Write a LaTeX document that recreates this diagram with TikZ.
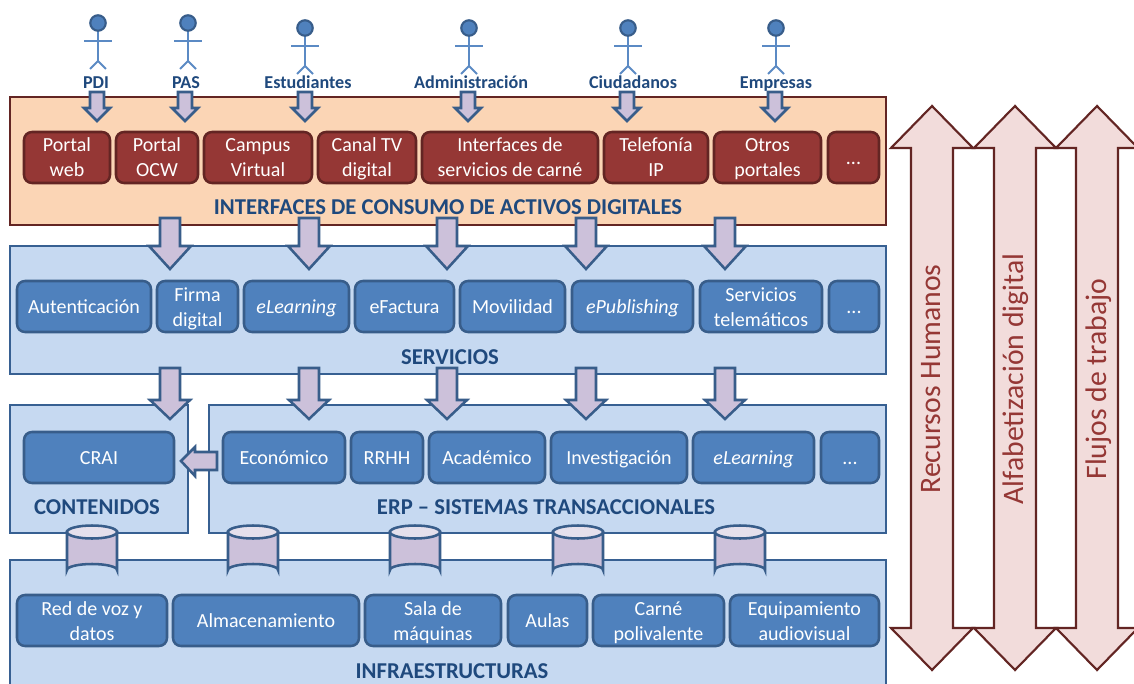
\documentclass[tikz,border=0pt]{standalone}
\usepackage{fontspec}
\setmainfont{Carlito}
\usetikzlibrary{calc}
\definecolor{panelorange}{HTML}{FBD5B5}
\definecolor{panelblue}{HTML}{C6D9F1}
\definecolor{edgeblue}{HTML}{376092}
\definecolor{boxblue}{HTML}{4F81BD}
\definecolor{boxedge}{HTML}{385D8A}
\definecolor{boxred}{HTML}{953735}
\definecolor{edgered}{HTML}{632523}
\definecolor{pale}{HTML}{F2DCDB}
\definecolor{lilac}{HTML}{CCC1DA}
\definecolor{lilactop}{HTML}{E5E0EC}
\definecolor{titleblue}{HTML}{1F497D}
\definecolor{stick}{HTML}{5B8AC4}
\tikzset{
  x=0.75pt,y=-0.75pt,
  panelO/.style={draw=edgered,fill=panelorange,line width=1.9pt},
  panelB/.style={draw=edgeblue,fill=panelblue,line width=1.7pt},
  itemB/.style={draw=boxedge,fill=boxblue,line width=1.9pt,rounded corners=6pt,text=white,font=\fontsize{15}{18.75}\selectfont,align=center,inner sep=0pt},
  itemR/.style={draw=edgered,fill=boxred,line width=1.9pt,rounded corners=6pt,text=white,font=\fontsize{15}{18.75}\selectfont,align=center,inner sep=0pt},
  blockarrow/.style={draw=boxedge,fill=lilac,line width=1.9pt,line join=miter},
  bigarrow/.style={draw=edgered,fill=pale,line width=1.6pt,line join=miter},
  title/.style={text=titleblue,font=\fontsize{17}{20}\bfseries\selectfont,inner sep=0pt,anchor=base},
  actorlabel/.style={text=titleblue,font=\fontsize{13.6}{16}\bfseries\selectfont,inner sep=0pt,anchor=base},
  sidetext/.style={text=boxred,font=\fontsize{22.3}{26}\selectfont,rotate=90,inner sep=0pt},
  stickline/.style={draw=stick,line width=1.4pt},
  head/.style={draw=boxedge,fill=boxblue,line width=1.6pt},
  cyl/.style={draw=boxedge,fill=lilac,line width=1.9pt},
  cyltop/.style={draw=boxedge,fill=lilactop,line width=1.9pt}
}
\newcommand{\topstrut}{\rule{0pt}{14.5pt}}
\newcommand{\botstrut}{\rule[-4pt]{0pt}{4pt}}
% name, x0, x1, y0, y1, style, text
\newcommand{\itembox}[7]{%
  \node[#6,minimum width={(#3-#2)*0.75pt},minimum height={(#5-#4)*0.75pt}] (#1) at ({(#2+#3)/2},{(#4+#5)/2}) {\topstrut #7\botstrut};}
\newcommand{\panelbox}[6]{%
  \node[#6,minimum width={(#3-#2)*0.75pt},minimum height={(#5-#4)*0.75pt},inner sep=0pt] (#1) at ({(#2+#3)/2},{(#4+#5)/2}) {};}
% cx, top, shoulder, tip, shaft half, head half
\newcommand{\downblock}[6]{%
  \draw[blockarrow] ({#1-#5},#2) -- ({#1+#5},#2) -- ({#1+#5},#3) -- ({#1+#6},#3) -- (#1,#4) -- ({#1-#6},#3) -- ({#1-#5},#3) -- cycle;}
\newcommand{\actor}[2]{%
  \draw[stickline] (#1,{#2+8}) -- (#1,{#2+39});
  \draw[stickline] ({#1-14},{#2+18}) -- ({#1+14},{#2+18});
  \draw[stickline] ({#1-8},{#2+46}) -- (#1,{#2+38}) -- ({#1+8},{#2+46});
  \draw[head] (#1,#2) circle[radius=5.8pt];}
\newcommand{\cylinder}[1]{%
  \draw[cyl] ({#1-25},532) -- ({#1-25},570) arc[start angle=180,end angle=360,x radius=25,y radius=6] -- ({#1+25},532) -- cycle;
  \draw[cyltop] (#1,532) ellipse[x radius=25*0.75pt,y radius=6.5*0.75pt];}
\newcommand{\updown}[1]{%
  \draw[bigarrow] (#1,106) -- ({#1+41},148) -- ({#1+21},148) -- ({#1+21},628) -- ({#1+41},628) -- (#1,670) -- ({#1-41},628) -- ({#1-21},628) -- ({#1-21},148) -- ({#1-41},148) -- cycle;}
\begin{document}
\begin{tikzpicture}
\path[use as bounding box,clip] (0,0) rectangle (1134,684);
\fill[white] (0,0) rectangle (1134,684);

% panels
\panelbox{pI}{10}{886}{97}{225}{panelO}
\panelbox{pS}{10}{886}{246}{374}{panelB}
\panelbox{pC}{10}{188}{405}{533}{panelB}
\panelbox{pE}{209}{886}{405}{533}{panelB}
\panelbox{pF}{10}{886}{560}{700}{panelB}

% actors
\actor{98}{23}
\actor{188}{23}
\actor{305}{28}
\actor{469}{28}
\actor{628}{28}
\actor{776}{28}
\node[actorlabel] (aPDI) at (96,89) {PDI};
\node[actorlabel] (aPAS) at (186,89) {PAS};
\node[actorlabel] (aEst) at (308,89) {Estudiantes};
\node[actorlabel] (aAdm) at (471,89) {Administración};
\node[actorlabel] (aCiu) at (633,89) {Ciudadanos};
\node[actorlabel] (aEmp) at (776,89) {Empresas};

% actor arrows
\foreach \c in {97,185,305,468,627,775} {\downblock{\c}{92}{108}{121}{7}{13}}

% red items
\itembox{r1}{24}{110}{132}{183}{itemR}{Portal\\web}
\itembox{r2}{116}{198}{132}{183}{itemR}{Portal\\OCW}
\itembox{r3}{204}{312}{132}{183}{itemR}{Campus\\Virtual}
\itembox{r4}{318}{416}{132}{183}{itemR}{Canal TV\\digital}
\itembox{r5}{422}{598}{132}{183}{itemR}{Interfaces de\\servicios de carné}
\itembox{r6}{604}{708}{132}{183}{itemR}{Telefonía\\IP}
\itembox{r7}{714}{821}{132}{183}{itemR}{Otros\\portales}
\itembox{r8}{828}{879}{132}{183}{itemR}{...}
\node[title] (tI) at (448,215) {INTERFACES DE CONSUMO DE ACTIVOS DIGITALES};

% arrows to services
\foreach \c in {170,309,447,586,725} {\downblock{\c}{218}{246}{269}{10}{21}}

% service items
\itembox{s1}{17}{151}{281}{332}{itemB}{Autenticación}
\itembox{s2}{157}{238}{281}{332}{itemB}{Firma\\digital}
\itembox{s3}{244}{349}{281}{332}{itemB}{\itshape eLearning}
\itembox{s4}{355}{454}{281}{332}{itemB}{eFactura}
\itembox{s5}{460}{565}{281}{332}{itemB}{Movilidad}
\itembox{s6}{572}{693}{281}{332}{itemB}{\itshape ePublishing}
\itembox{s7}{700}{822}{281}{332}{itemB}{Servicios\\telemáticos}
\itembox{s8}{829}{879}{281}{332}{itemB}{...}
\node[title] (tS) at (450,364) {SERVICIOS};

% arrows to lower row
\foreach \c in {170,309,447,586,725} {\downblock{\c}{368}{400}{419}{10}{20}}

% ERP items
\itembox{c1}{24}{174}{432}{483}{itemB}{CRAI}
\itembox{e1}{223}{345}{432}{483}{itemB}{Económico}
\itembox{e2}{351}{423}{432}{483}{itemB}{RRHH}
\itembox{e3}{429}{545}{432}{483}{itemB}{Académico}
\itembox{e4}{551}{687}{432}{483}{itemB}{Investigación}
\itembox{e5}{693}{814}{432}{483}{itemB}{\itshape eLearning}
\itembox{e6}{821}{879}{432}{483}{itemB}{...}
\node[title] (tC) at (97,514) {CONTENIDOS};
\node[title] (tE) at (546,514) {ERP – SISTEMAS TRANSACCIONALES};

% ERP to contents arrow
\draw[blockarrow] (217,452) -- (195,452) -- (195,447) -- (181,461) -- (195,476) -- (195,470) -- (217,470) -- cycle;

% cylinders
\foreach \c in {92,253,415,578,740} {\cylinder{\c}}

% infrastructure items
\itembox{f1}{17}{167}{595}{646}{itemB}{Red de voz y\\datos}
\itembox{f2}{173}{359}{595}{646}{itemB}{Almacenamiento}
\itembox{f3}{365}{501}{595}{646}{itemB}{Sala de\\máquinas}
\itembox{f4}{508}{587}{595}{646}{itemB}{Aulas}
\itembox{f5}{593}{724}{595}{646}{itemB}{Carné\\polivalente}
\itembox{f6}{730}{879}{595}{646}{itemB}{Equipamiento\\audiovisual}
\node[title] (tF) at (452,678) {INFRAESTRUCTURAS};

% side arrows
\updown{932}
\updown{1015}
\updown{1097}
\node[sidetext] (h1) at (931,379) {Recursos Humanos};
\node[sidetext] (h2) at (1016,379) {Alfabetización digital};
\node[sidetext] (h3) at (1099,379) {Flujos de trabajo};
\end{tikzpicture}
\end{document}
